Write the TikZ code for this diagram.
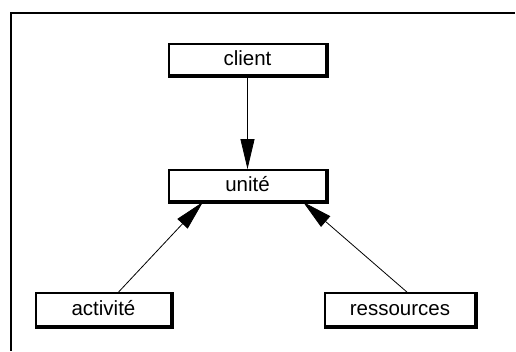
\documentclass[tikz,border=0pt]{standalone}
\usepackage{fontspec}
\setmainfont{Liberation Sans}
\usetikzlibrary{arrows.meta}
\begin{document}
\begin{tikzpicture}[x=1pt,y=-1pt,
  box/.style={draw, line width=1.8pt, rectangle, inner sep=0pt,
    font=\fontsize{20.5}{22}\selectfont, text height=14pt, text depth=3pt},
  link/.style={line width=0.8pt, -{Triangle[length=30pt,width=14pt]}},
  frameline/.style={line width=1.8pt}]
  \useasboundingbox (0,0) rectangle (516,351);
  % open frame: top and left edges only
  \draw[frameline] (515,13) -- (11,13) -- (11,351);
  % boxes
  \node[box, minimum width=157pt, minimum height=31pt] (client) at (247.5,59.5) {client};
  \node[box, minimum width=157pt, minimum height=31pt] (unite) at (247.5,185.5) {unité};
  \node[box, minimum width=135pt, minimum height=33pt] (act) at (103.5,309.5) {activité};
  \node[box, minimum width=150pt, minimum height=33pt] (res) at (400,309.5) {ressources};
  % heavier bottom and right edges
  \foreach \n in {client,unite,act,res}
    \draw[line width=1.2pt] ([yshift=-1pt]\n.south west) -- ([xshift=1pt,yshift=-1pt]\n.south east)
      -- ([xshift=1pt]\n.north east);
  % connectors
  \draw[link] (client.south) -- (unite.north);
  \draw[link] ([xshift=15pt]act.north) -- ([xshift=-44.5pt]unite.south);
  \draw[link] ([xshift=7pt]res.north) -- ([xshift=55.5pt]unite.south);
\end{tikzpicture}
\end{document}
